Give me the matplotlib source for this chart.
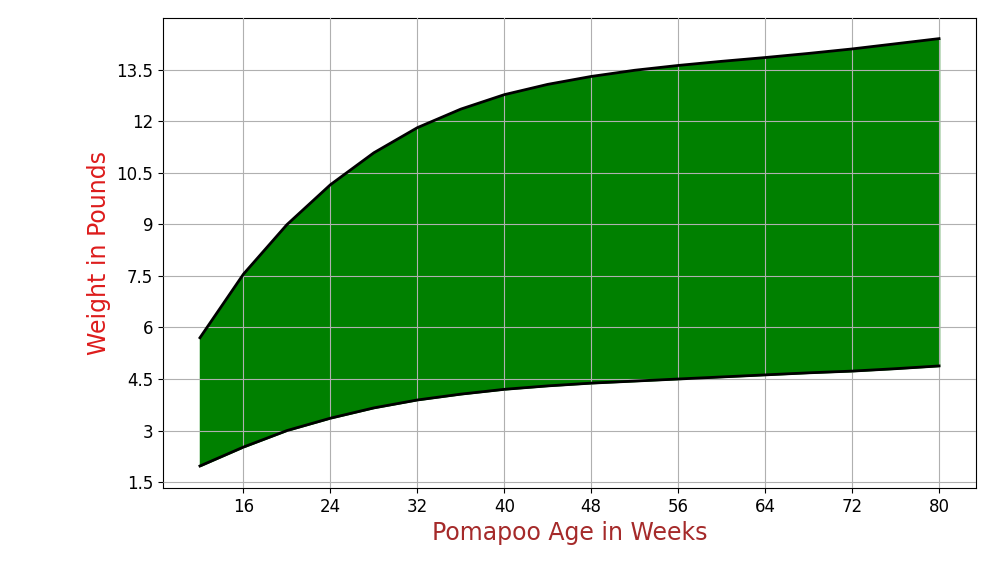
import matplotlib.pyplot as plt

weeks = [12, 16, 20, 24, 28, 32, 36, 40, 44, 48, 52, 56, 60, 64, 68, 72, 76, 80]
upper = [5.7, 7.55, 8.99, 10.15, 11.08, 11.81, 12.35, 12.77, 13.07, 13.3, 13.48,
         13.62, 13.74, 13.85, 13.97, 14.1, 14.25, 14.4]
lower = [1.97, 2.52, 3.0, 3.36, 3.66, 3.89, 4.06, 4.2, 4.3, 4.38, 4.44,
         4.5, 4.56, 4.62, 4.68, 4.73, 4.8, 4.88]

fig = plt.figure(figsize=(10, 5.83), dpi=100)
ax = fig.add_axes([0.163, 1 - 488 / 583, 0.813, 470 / 583])
ax.fill_between(weeks, lower, upper, color='green', zorder=2)
ax.plot(weeks, upper, color='black', lw=2, zorder=3)
ax.plot(weeks, lower, color='black', lw=2, zorder=3)
ax.set_xlim(8.6, 83.4)
ax.set_ylim(1.33, 15.0)
ax.set_xticks(range(16, 81, 8))
ax.set_yticks([1.5, 3, 4.5, 6, 7.5, 9, 10.5, 12, 13.5])
ax.set_yticklabels(['1.5', '3', '4.5', '6', '7.5', '9', '10.5', '12', '13.5'])
ax.tick_params(labelsize=12)
ax.grid(True, color='#b0b0b0', zorder=0)
ax.set_axisbelow(False)
ax.set_xlabel('Pomapoo Age in Weeks', color='#a52a2a', fontsize=17)
ax.set_ylabel('Weight in Pounds', color='#dd1c1c', fontsize=17)
fig.savefig('out.png')
